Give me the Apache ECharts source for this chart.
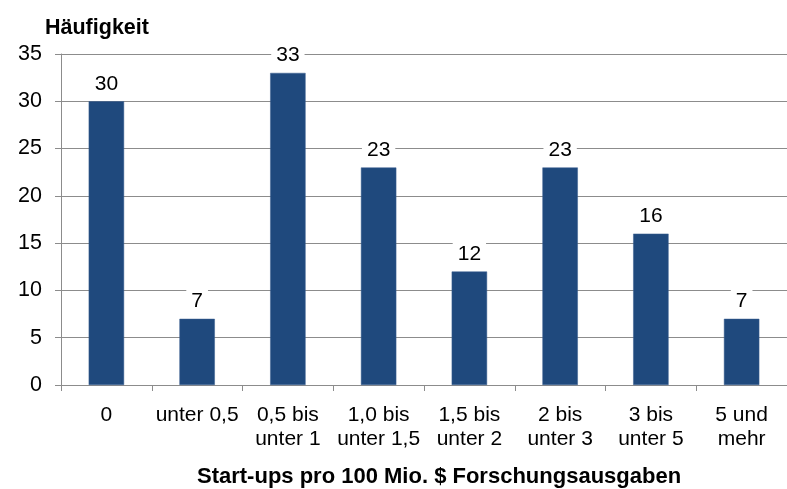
<!DOCTYPE html>
<html><head><meta charset="utf-8">
<script src="https://cdn.jsdelivr.net/npm/echarts@6/dist/echarts.min.js"></script>
<style>html,body{margin:0;padding:0;background:#fff}#c{width:787px;height:489px}</style>
</head><body><div id="c"></div>
<script>
const categories = ['0', 'unter 0,5', '0,5 bis\nunter 1', '1,0 bis\nunter 1,5', '1,5 bis\nunter 2', '2 bis\nunter 3', '3 bis\nunter 5', '5 und\nmehr'];
const values = [30, 7, 33, 23, 12, 23, 16, 7];
const yTicks = { min: 0, max: 35, interval: 5 };
const yTitle = 'Häufigkeit';
const xTitle = 'Start-ups pro 100 Mio. $ Forschungsausgaben';

const font = '"Liberation Sans", Arial, sans-serif';
const chart = echarts.init(document.getElementById('c'), null, { renderer: 'canvas' });
chart.setOption({
  animation: false,
  backgroundColor: '#fff',
  title: { text: yTitle, left: 40, top: 12, textStyle: { fontFamily: font, fontSize: 21.5, fontWeight: 'bold', color: '#000' } },
  graphic: [{ type: 'text', left: 197, top: 466, style: { text: xTitle, fontFamily: font, fontSize: 22, fontWeight: 'bold', fill: '#000' } }],
  grid: { left: 61, right: -9, top: 54, bottom: 104, containLabel: false },
  xAxis: {
    type: 'category', data: categories,
    axisLine: { lineStyle: { color: '#8c8c8c', width: 1 } },
    axisTick: { show: true, length: 6, lineStyle: { color: '#8c8c8c' } },
    axisLabel: { fontFamily: font, fontSize: 21, color: '#000', margin: 18, lineHeight: 24, interval: 0 }
  },
  yAxis: {
    type: 'value', min: yTicks.min, max: yTicks.max, interval: yTicks.interval,
    axisLine: { show: true, lineStyle: { color: '#8c8c8c' } },
    axisTick: { show: true, length: 6, lineStyle: { color: '#8c8c8c' } },
    splitLine: { lineStyle: { color: '#8c8c8c', width: 1 } },
    axisLabel: { fontFamily: font, fontSize: 21.5, color: '#000', margin: 19 }
  },
  series: [{
    type: 'bar', data: values, barWidth: '39%',
    itemStyle: { color: '#1F497D', borderColor: '#3a5f90', borderWidth: 0.5 },
    label: { show: true, position: 'top', distance: 6, fontFamily: font, fontSize: 21, color: '#000', backgroundColor: '#fff', padding: [1, 5] }
  }]
});
</script></body></html>
